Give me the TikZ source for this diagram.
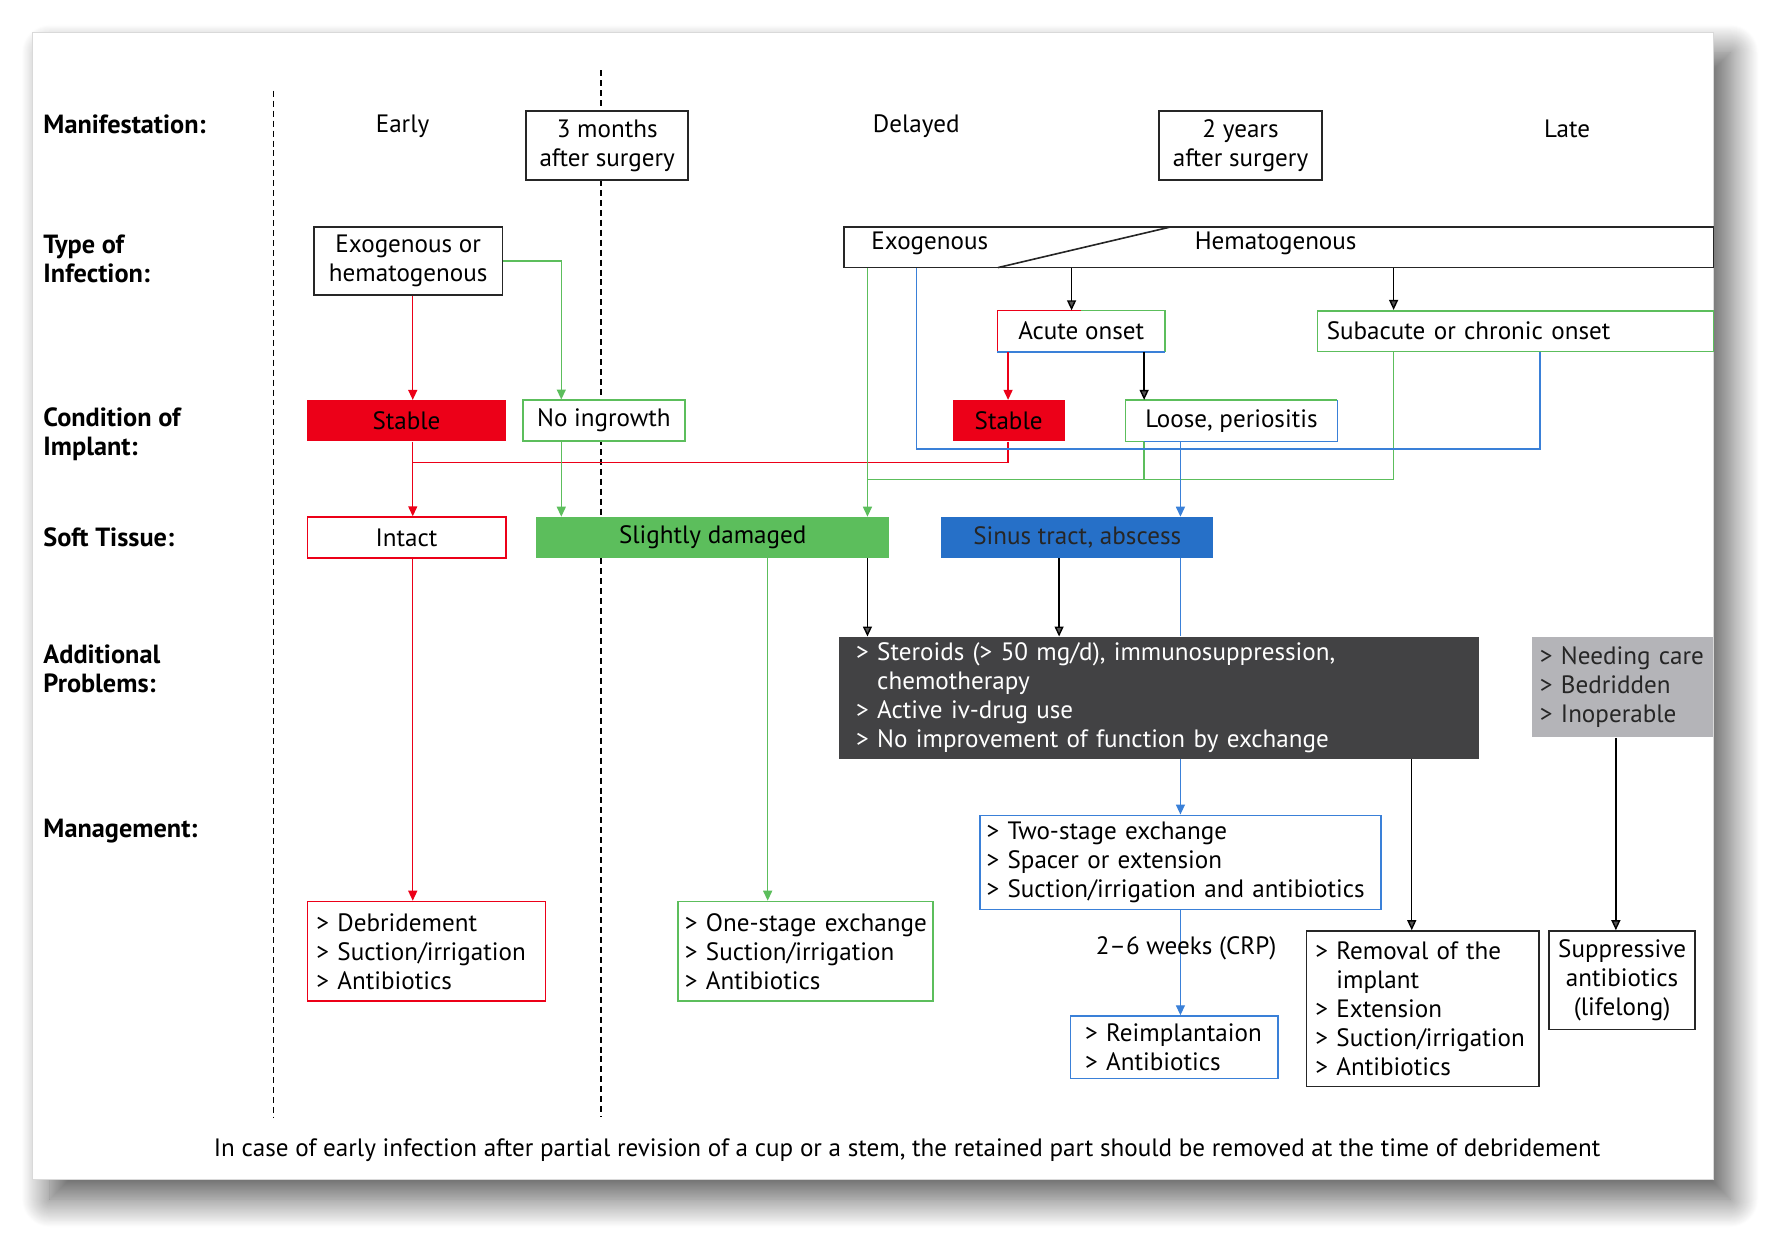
\documentclass[tikz,border=0pt]{standalone}
\usepackage{fontspec}
\setmainfont{PT Sans}
\usetikzlibrary{arrows.meta,shadows.blur}

\definecolor{implred}{RGB}{236,0,24}
\definecolor{implgreen}{RGB}{92,190,92}
\definecolor{implblue}{RGB}{38,112,200}
\definecolor{linkblue}{RGB}{58,128,216}
\definecolor{darkpanel}{RGB}{66,66,68}
\definecolor{greypanel}{RGB}{180,180,184}

\begin{document}
\begin{tikzpicture}[x=0.02cm, y=-0.02cm,
    font=\fontsize{12.6}{14.6}\selectfont,
    rowlabel/.style={anchor=west, align=left, inner sep=0pt, font=\fontsize{13.2}{14.6}\selectfont\bfseries},
    plainbox/.style={draw=black!85, fill=white, line width=0.8pt, inner sep=0pt, align=center},
    flatbox/.style={inner sep=0pt, minimum height=0.72cm, align=center},
    listbox/.style={line width=0.8pt, fill=white, inner ysep=0pt, align=left},
    conn/.style={line width=0.7pt},
    arr/.style={conn, -{Triangle[length=5pt, width=4.5pt]}},
]
    \useasboundingbox (0,0) rectangle (1568,1099);
    % panel with shadow
    \draw[draw=black!15, fill=white, blur shadow={shadow xshift=0.3cm, shadow yshift=-0.35cm, shadow blur radius=0.5cm, shadow blur steps=30, shadow opacity=65}] (29,29) rectangle (1511,1040);

    % phase separators
    \draw[dash pattern=on 3pt off 2pt, line width=0.6pt] (241,80) -- (241,985);
    \draw[dash pattern=on 3pt off 2pt, line width=0.6pt] (530,62) -- (530,985);

    % row labels
    \node[rowlabel] (lman) at (38,110) {Manifestation:};
    \node[rowlabel] (ltype) at (38,228) {Type of\\Infection:};
    \node[rowlabel] (lcond) at (38,383) {Condition of\\Implant:};
    \node[rowlabel] (lsoft) at (38,474) {Soft Tissue:};
    \node[rowlabel] (laddp) at (38,590) {Additional\\Problems:};
    \node[rowlabel] (lmgmt) at (38,733) {Management:};

    % manifestation
    \node (early) at (355,111) {Early};
    \node[plainbox, minimum width=2.86cm, minimum height=1.22cm] (three) at (535.5,128.5) {3 months\\after surgery};
    \node (delayed) at (808,111) {Delayed};
    \node[plainbox, minimum width=2.88cm, minimum height=1.22cm] (two) at (1094,128.5) {2 years\\after surgery};
    \node (late) at (1382,114) {Late};

    % type of infection
    \node[plainbox, minimum width=3.32cm, minimum height=1.2cm] (exh) at (360,230) {Exogenous or\\hematogenous};
    \node[plainbox, minimum width=15.34cm, minimum height=0.72cm] (infect) at (1127.5,218) {};
    \node (exo) at (820,215) {Exogenous};
    \node (hema) at (1125,215) {Hematogenous};
    \draw[line width=0.8pt, black!85] (880,236) -- (1033,200);

    \node[flatbox, fill=white, minimum width=2.94cm] (acute) at (953.5,292) {Acute onset};
    \node[flatbox, listbox, draw=implgreen, text width=6.66cm, inner xsep=0.16cm] (subacute) at (1336.5,292) {Subacute or chronic onset};

    % condition of implant
    \node[flatbox, fill=implred, minimum width=3.5cm] (stable) at (358.5,371) {Stable};
    \node[flatbox, draw=implgreen, fill=white, line width=0.8pt, minimum width=2.86cm] (noing) at (532.5,371) {No ingrowth};
    \node[flatbox, fill=implred, minimum width=1.98cm] (stabletwo) at (889.5,371) {Stable};
    \node[flatbox, fill=white, minimum width=3.72cm] (loose) at (1086,371) {Loose, periositis};

    % soft tissue
    \node[flatbox, draw=implred, line width=0.8pt, minimum width=3.5cm] (intact) at (358.5,474) {Intact};
    \node[flatbox, fill=implgreen, minimum width=6.22cm] (slight) at (628.5,474) {Slightly damaged};
    \node[flatbox, fill=implblue, minimum width=4.8cm, text=black!85] (sinus) at (950,474) {Sinus tract, abscess};

    % additional problems
    \node[listbox, fill=darkpanel, text=white, text width=10.68cm, inner xsep=0.3cm, minimum height=2.14cm] (risk) at (1022,615.5)
        {> Steroids (> 50 mg/d), immunosuppression,\\\phantom{>} chemotherapy\\> Active iv-drug use\\> No improvement of function by exchange};
    \node[listbox, fill=greypanel, text=black!85, text width=2.92cm, inner xsep=0.14cm, minimum height=1.76cm] (frail) at (1431,606)
        {\mbox{> Needing care}\\> Bedridden\\> Inoperable};

    % management
    \node[listbox, draw=implred, text width=3.88cm, inner xsep=0.16cm, minimum height=1.76cm] (debr) at (376,839)
        {> Debridement\\\mbox{> Suction/irrigation}\\> Antibiotics};
    \node[listbox, draw=implgreen, text width=4.26cm, inner xsep=0.12cm, minimum height=1.76cm] (onestage) at (710.5,839)
        {\mbox{> One-stage exchange}\\\mbox{> Suction/irrigation}\\> Antibiotics};
    \node[listbox, draw=linkblue, text width=6.84cm, inner xsep=0.12cm, minimum height=1.66cm] (twostage) at (1041,760.5)
        {> Two-stage exchange\\> Spacer or extension\\\mbox{> Suction/irrigation and antibiotics}};
    \node[listbox, draw=linkblue, text width=3.14cm, inner xsep=0.26cm, minimum height=1.1cm] (reimp) at (1035.5,923.5)
        {\mbox{> Reimplantaion}\\> Antibiotics};
    \node[listbox, draw=black!85, text width=3.78cm, inner xsep=0.16cm, minimum height=2.74cm] (removal) at (1254.5,889.5)
        {\mbox{> Removal of the}\\\phantom{>} implant\\> Extension\\\mbox{> Suction/irrigation}\\> Antibiotics};
    \node[plainbox, minimum width=2.58cm, minimum height=1.74cm] (suppr) at (1430.5,864.5)
        {Suppressive\\antibiotics\\(lifelong)};

    % mixed borders
    \draw[conn, implred] (acute.south west) -- (acute.north west) -- (acute.north);
    \draw[conn, implgreen] (acute.north) -- (acute.north east) -- (acute.south east);
    \draw[conn, linkblue] (acute.south east) -- (acute.south west);

    % lanes and buses
    \coordinate (xr1) at (364,0);
    \coordinate (xg1) at (495,0);
    \coordinate (xg3) at (677,0);
    \coordinate (xg2) at (765,0);
    \coordinate (xb1) at (808,0);
    \coordinate (xr2) at (889,0);
    \coordinate (xk4) at (934,0);
    \coordinate (xk1) at (945,0);
    \coordinate (xk2) at (1009,0);
    \coordinate (xb2) at (1041,0);
    \coordinate (xk3) at (1229,0);
    \coordinate (xk5) at (1245,0);
    \coordinate (xb3) at (1358,0);
    \coordinate (xk6) at (1425,0);
    \coordinate (bluebus) at (0,396);
    \coordinate (redbus) at (0,408);
    \coordinate (greenbus) at (0,423);

    \draw[conn, implgreen] (loose.south -| xk2) -- (loose.south west) -- (loose.north west) -- (loose.north east);
    \draw[conn, linkblue] (loose.north east) -- (loose.south east) -- (loose.south -| xk2);

    % red path
    \draw[arr, implred] (exh.south -| xr1) -- (stable.north -| xr1);
    \draw[arr, implred] (stable.south -| xr1) -- (intact.north -| xr1);
    \draw[conn, implred] (stabletwo.south -| xr2) -- (xr2 |- redbus) -- (xr1 |- redbus);
    \draw[arr, implred] (acute.south -| xr2) -- (stabletwo.north -| xr2);
    \draw[arr, implred] (intact.south -| xr1) -- (debr.north -| xr1);

    % green path
    \draw[arr, implgreen] (exh.east) -| (noing.north -| xg1);
    \draw[arr, implgreen] (noing.south -| xg1) -- (slight.north -| xg1);
    \draw[arr, implgreen] (infect.south -| xg2) -- (slight.north -| xg2);
    \draw[conn, implgreen] (loose.south -| xk2) -- (xk2 |- greenbus) -- (xg2 |- greenbus);
    \draw[conn, implgreen] (subacute.south -| xk3) -- (xk3 |- greenbus) -- (xk2 |- greenbus);
    \draw[arr, implgreen] (slight.south -| xg3) -- (onestage.north -| xg3);

    % blue path
    \draw[conn, linkblue] (infect.south -| xb1) -- (xb1 |- bluebus) -- (xb3 |- bluebus) -- (subacute.south -| xb3);
    \draw[arr, linkblue] (loose.south -| xb2) -- (sinus.north -| xb2);
    \draw[conn, linkblue] (sinus.south -| xb2) -- (risk.north -| xb2);
    \draw[arr, linkblue] (risk.south -| xb2) -- (twostage.north -| xb2);
    \draw[arr, linkblue] (twostage.south -| xb2) -- (reimp.north -| xb2);
    \node (weeks) at (1046,836) {2--6 weeks (CRP)};

    % black arrows
    \draw[arr] (infect.south -| xk1) -- (acute.north -| xk1);
    \draw[arr] (infect.south -| xk3) -- (subacute.north -| xk3);
    \draw[arr] (acute.south -| xk2) -- (loose.north -| xk2);
    \draw[arr] (slight.south -| xg2) -- (risk.north -| xg2);
    \draw[arr] (sinus.south -| xk4) -- (risk.north -| xk4);
    \draw[arr] (risk.south -| xk5) -- (removal.north -| xk5);
    \draw[arr] (frail.south -| xk6) -- (suppr.north -| xk6);

    % footnote
    \node (note) at (800,1014) {In case of early infection after partial revision of a cup or a stem, the retained part should be removed at the time of debridement};
\end{tikzpicture}
\end{document}
